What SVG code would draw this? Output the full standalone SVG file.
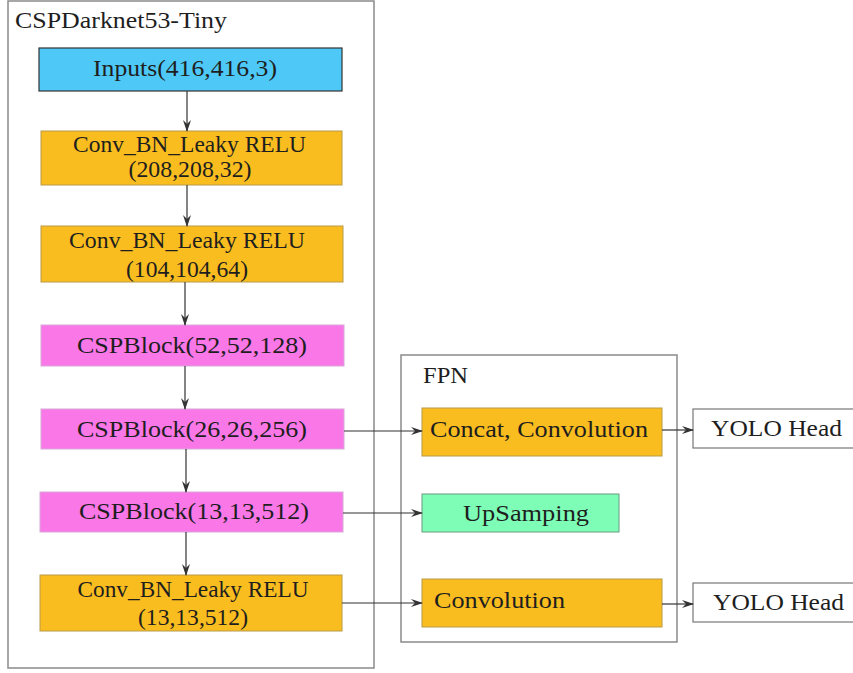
<svg xmlns="http://www.w3.org/2000/svg" width="853" height="673" viewBox="0 0 853 673">
<defs>
<style>
.t{font-family:"Liberation Serif","Times New Roman",serif;font-size:23px;fill:#1e1e1e}
.c{text-anchor:middle}
.frame{fill:none;stroke:#8a8a8a;stroke-width:1.5}
.blue{fill:#4ec9f7;stroke:#333;stroke-width:1.2}
.orange{fill:#fabd1f;stroke:#b99a4a;stroke-width:1}
.pink{fill:#f977e7;stroke:#d8a8d8;stroke-width:1}
.green{fill:#7dfdb5;stroke:#6a9a80;stroke-width:1}
.white{fill:#fff;stroke:#777;stroke-width:1.2}
.edge{fill:none;stroke:#333;stroke-width:1.2;marker-end:url(#ah)}
</style>
<marker id="ah" viewBox="0 0 12 8" refX="11" refY="4" markerWidth="12" markerHeight="8" markerUnits="userSpaceOnUse" orient="auto">
<path d="M0,0 L12,4 L0,8 L4,4 z" fill="#333"/>
</marker>
</defs>
<rect width="853" height="673" fill="#fff"/>

<g id="backbone">
<rect class="frame" x="8" y="1" width="366" height="667"/>
<text class="t" x="15" y="28" textLength="212" lengthAdjust="spacingAndGlyphs">CSPDarknet53-Tiny</text>
</g>

<g id="fpn">
<rect class="frame" x="401" y="355" width="276" height="287"/>
<text class="t" x="423" y="383" textLength="45" lengthAdjust="spacingAndGlyphs">FPN</text>
</g>

<g id="inputs">
<rect class="blue" x="39" y="48" width="303" height="43"/>
<text class="t c" x="185" y="76" textLength="184" lengthAdjust="spacingAndGlyphs">Inputs(416,416,3)</text>
</g>

<g id="conv1">
<rect class="orange" x="41" y="131" width="301" height="54"/>
<text class="t c" x="189.5" y="152" textLength="233" lengthAdjust="spacingAndGlyphs">Conv_BN_Leaky RELU</text>
<text class="t c" x="190" y="177" textLength="123" lengthAdjust="spacingAndGlyphs">(208,208,32)</text>
</g>

<g id="conv2">
<rect class="orange" x="41" y="226" width="302" height="56"/>
<text class="t c" x="187" y="248" textLength="236" lengthAdjust="spacingAndGlyphs">Conv_BN_Leaky RELU</text>
<text class="t c" x="187" y="277" textLength="122" lengthAdjust="spacingAndGlyphs">(104,104,64)</text>
</g>

<g id="csp1">
<rect class="pink" x="41" y="325" width="303" height="41"/>
<text class="t c" x="192" y="353" textLength="230" lengthAdjust="spacingAndGlyphs">CSPBlock(52,52,128)</text>
</g>

<g id="csp2">
<rect class="pink" x="41" y="409" width="303" height="40"/>
<text class="t c" x="192" y="437" textLength="230" lengthAdjust="spacingAndGlyphs">CSPBlock(26,26,256)</text>
</g>

<g id="csp3">
<rect class="pink" x="40" y="492" width="303" height="40"/>
<text class="t c" x="194" y="519" textLength="230" lengthAdjust="spacingAndGlyphs">CSPBlock(13,13,512)</text>
</g>

<g id="conv3">
<rect class="orange" x="40" y="575" width="302" height="56"/>
<text class="t c" x="193" y="597" textLength="231" lengthAdjust="spacingAndGlyphs">Conv_BN_Leaky RELU</text>
<text class="t c" x="193" y="625" textLength="110" lengthAdjust="spacingAndGlyphs">(13,13,512)</text>
</g>

<g id="concat">
<rect class="orange" x="422" y="408" width="240" height="48"/>
<text class="t" x="430" y="437" textLength="218" lengthAdjust="spacingAndGlyphs">Concat, Convolution</text>
</g>

<g id="upsampling">
<rect class="green" x="422" y="494" width="197" height="38"/>
<text class="t" x="463" y="521" textLength="126" lengthAdjust="spacingAndGlyphs">UpSamping</text>
</g>

<g id="convolution">
<rect class="orange" x="422" y="579" width="240" height="48"/>
<text class="t" x="434" y="608" textLength="131" lengthAdjust="spacingAndGlyphs">Convolution</text>
</g>

<g id="yolo1">
<rect class="white" x="693" y="409" width="164" height="39"/>
<text class="t" x="711" y="436" textLength="131" lengthAdjust="spacingAndGlyphs">YOLO Head</text>
</g>

<g id="yolo2">
<rect class="white" x="693" y="583" width="164" height="39"/>
<text class="t" x="713" y="610" textLength="131" lengthAdjust="spacingAndGlyphs">YOLO Head</text>
</g>

<g id="connectors">
<path class="edge" d="M187,91 V131"/>
<path class="edge" d="M187,185 V226"/>
<path class="edge" d="M185,282 V325"/>
<path class="edge" d="M185,366 V409"/>
<path class="edge" d="M186,449 V492"/>
<path class="edge" d="M186,532 V575"/>
<path class="edge" d="M344,431 H422"/>
<path class="edge" d="M343,513 H422"/>
<path class="edge" d="M342,603 H422"/>
<path class="edge" d="M662,430 H693"/>
<path class="edge" d="M662,604 H693"/>
</g>
</svg>
